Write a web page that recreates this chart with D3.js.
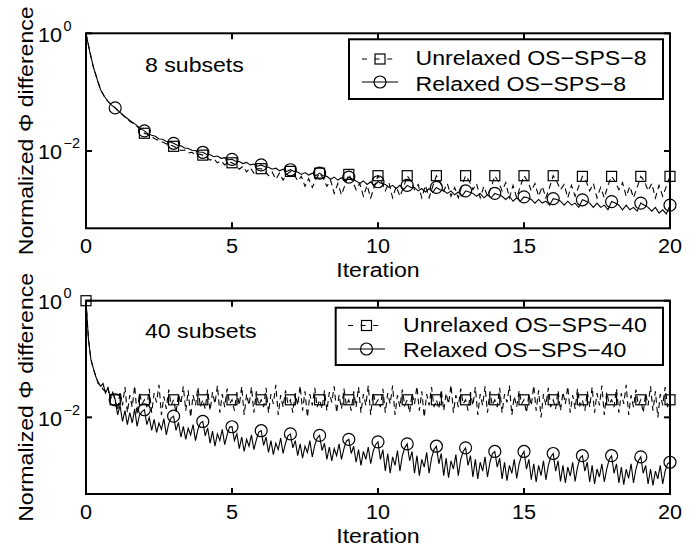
<!DOCTYPE html>
<html><head><meta charset="utf-8">
<script src="https://cdn.jsdelivr.net/npm/d3@7"></script>
<style>
body{margin:0;background:#fff}
svg{display:block}
text{font-family:"Liberation Sans",Arial,Helvetica,sans-serif;fill:#000}
</style>
</head><body>
<svg id="chart" width="700" height="549"></svg>
<script>
// ---------- data ----------
const xTickValues = [0, 5, 10, 15, 20];
const yTickExponents = [0, -2];
const xLabel = "Iteration";
const yLabel = "Normalized \u03A6 difference";
const panelTitles = ["8 subsets", "40 subsets"];
const legendTop = ["Unrelaxed OS\u2212SPS\u22128", "Relaxed OS\u2212SPS\u22128"];
const legendBottom = ["Unrelaxed OS\u2212SPS\u221240", "Relaxed OS\u2212SPS\u221240"];
const samplesPerIterTop = 8;
const samplesPerIterBottom = 12;

const unrelaxed8 = [
1, 0.5, 0.27, 0.17, 0.11, 0.085, 0.07, 0.06, 0.054,
0.046, 0.041, 0.036, 0.032, 0.029, 0.026, 0.023, 0.020,
0.019, 0.0172, 0.016, 0.0150, 0.0142, 0.0132, 0.0128, 0.012,
0.0112, 0.0102, 0.0104, 0.0092, 0.0095, 0.0086, 0.0089, 0.0085,
0.0078, 0.0070, 0.0074, 0.0063, 0.0068, 0.0058, 0.0065, 0.0063,
0.0058, 0.0049, 0.0055, 0.0044, 0.0052, 0.0042, 0.0050, 0.0050,
0.0046, 0.0038, 0.0044, 0.0033, 0.0042, 0.0032, 0.0040, 0.0045,
0.0040, 0.0031, 0.0037, 0.0025, 0.0034, 0.0024, 0.0033, 0.0042,
0.0034, 0.0025, 0.0032, 0.0019, 0.0028, 0.0018, 0.0027, 0.0040,
0.0031, 0.0022, 0.0028, 0.0017, 0.0026, 0.0016, 0.0025, 0.0038,
0.0030, 0.0021, 0.0029, 0.0016, 0.0025, 0.0017, 0.0024, 0.0038,
0.0031, 0.0022, 0.0027, 0.0016, 0.0026, 0.0016, 0.0025, 0.0038,
0.0030, 0.0021, 0.0028, 0.0017, 0.0024, 0.0016, 0.0026, 0.0038,
0.0031, 0.0022, 0.0028, 0.0016, 0.0025, 0.0017, 0.0024, 0.0038,
0.0030, 0.0021, 0.0029, 0.0016, 0.0026, 0.0016, 0.0025, 0.0038,
0.0031, 0.0021, 0.0028, 0.0017, 0.0025, 0.0016, 0.0024, 0.0038,
0.0030, 0.0022, 0.0027, 0.0016, 0.0026, 0.0017, 0.0025, 0.0037,
0.0031, 0.0021, 0.0028, 0.0016, 0.0024, 0.0016, 0.0026, 0.0037,
0.0030, 0.0022, 0.0029, 0.0017, 0.0025, 0.0016, 0.0024, 0.0037,
0.0031, 0.0021, 0.0028, 0.0016, 0.0026, 0.0017, 0.0025, 0.0037
];
const relaxed8 = [
1, 0.5, 0.27, 0.17, 0.11, 0.085, 0.07, 0.06, 0.054,
0.047, 0.042, 0.037, 0.033, 0.030, 0.027, 0.024, 0.022,
0.0195, 0.0185, 0.0178, 0.0160, 0.0158, 0.0145, 0.0142, 0.0135,
0.0125, 0.0122, 0.0112, 0.0110, 0.0103, 0.0101, 0.0096, 0.0095,
0.0088, 0.0086, 0.0080, 0.0082, 0.0075, 0.0077, 0.0071, 0.0072,
0.0067, 0.0066, 0.0061, 0.0064, 0.0058, 0.0060, 0.0055, 0.0058,
0.0054, 0.0053, 0.0049, 0.0051, 0.0046, 0.0049, 0.0045, 0.0048,
0.0045, 0.0044, 0.0040, 0.0043, 0.0039, 0.0042, 0.0038, 0.0042,
0.0038, 0.0037, 0.0033, 0.0036, 0.0032, 0.0035, 0.0031, 0.0036,
0.0033, 0.0031, 0.0028, 0.0031, 0.0027, 0.0030, 0.0026, 0.0030,
0.0028, 0.0027, 0.0024, 0.0026, 0.0023, 0.0026, 0.0022, 0.0026,
0.0024, 0.0024, 0.0021, 0.0023, 0.0020, 0.0023, 0.0020, 0.0024,
0.0022, 0.0021, 0.0019, 0.0021, 0.0018, 0.0020, 0.0017, 0.0021,
0.0020, 0.0019, 0.0017, 0.0019, 0.0016, 0.0018, 0.0016, 0.0019,
0.0018, 0.0017, 0.0015, 0.0017, 0.0014, 0.0016, 0.0014, 0.00166,
0.0016, 0.0015, 0.0013, 0.0015, 0.0013, 0.0014, 0.0012, 0.00155,
0.0015, 0.0014, 0.0012, 0.0014, 0.0012, 0.0013, 0.0011, 0.00148,
0.0014, 0.0013, 0.0011, 0.0013, 0.0011, 0.0012, 0.0010, 0.00138,
0.0013, 0.0012, 0.0010, 0.0012, 0.0010, 0.0011, 0.00095, 0.0013,
0.0012, 0.0011, 0.00095, 0.0011, 0.00088, 0.0010, 0.00085, 0.0012
];
const unrelaxed40 = [
1, 0.22, 0.10, 0.068, 0.052, 0.038, 0.036, 0.030, 0.028, 0.033, 0.020, 0.026, 0.020,
0.013, 0.028, 0.016, 0.033, 0.012, 0.024, 0.015, 0.035, 0.011, 0.026, 0.017, 0.020,
0.015, 0.031, 0.012, 0.026, 0.018, 0.036, 0.011, 0.023, 0.014, 0.030, 0.016, 0.020,
0.012, 0.025, 0.017, 0.034, 0.013, 0.029, 0.010, 0.024, 0.016, 0.033, 0.015, 0.020,
0.014, 0.030, 0.013, 0.027, 0.017, 0.035, 0.012, 0.025, 0.015, 0.031, 0.017, 0.020,
0.013, 0.027, 0.016, 0.034, 0.011, 0.025, 0.016, 0.033, 0.012, 0.028, 0.016, 0.020,
0.015, 0.032, 0.012, 0.025, 0.017, 0.036, 0.011, 0.024, 0.015, 0.029, 0.017, 0.020,
0.012, 0.026, 0.016, 0.035, 0.013, 0.028, 0.010, 0.025, 0.016, 0.032, 0.015, 0.020,
0.014, 0.029, 0.013, 0.027, 0.018, 0.034, 0.012, 0.024, 0.014, 0.031, 0.016, 0.020,
0.013, 0.028, 0.015, 0.033, 0.012, 0.025, 0.016, 0.035, 0.011, 0.027, 0.017, 0.020,
0.015, 0.031, 0.012, 0.026, 0.017, 0.035, 0.011, 0.024, 0.015, 0.030, 0.016, 0.020,
0.012, 0.026, 0.017, 0.034, 0.013, 0.028, 0.010, 0.025, 0.016, 0.033, 0.015, 0.020,
0.014, 0.030, 0.013, 0.026, 0.017, 0.036, 0.012, 0.024, 0.015, 0.031, 0.017, 0.020,
0.013, 0.027, 0.016, 0.033, 0.011, 0.025, 0.016, 0.034, 0.012, 0.028, 0.016, 0.020,
0.015, 0.032, 0.012, 0.025, 0.018, 0.035, 0.011, 0.023, 0.015, 0.029, 0.017, 0.020,
0.012, 0.025, 0.016, 0.035, 0.013, 0.029, 0.010, 0.025, 0.016, 0.032, 0.015, 0.020,
0.014, 0.029, 0.013, 0.027, 0.017, 0.034, 0.012, 0.024, 0.014, 0.031, 0.016, 0.020,
0.013, 0.028, 0.015, 0.033, 0.012, 0.026, 0.016, 0.035, 0.011, 0.027, 0.017, 0.020,
0.015, 0.031, 0.012, 0.026, 0.017, 0.036, 0.011, 0.024, 0.015, 0.030, 0.016, 0.020,
0.012, 0.026, 0.016, 0.034, 0.013, 0.028, 0.010, 0.025, 0.016, 0.033, 0.015, 0.020
];
const relaxed40 = [
1, 0.22, 0.10, 0.070, 0.050, 0.040, 0.034, 0.038, 0.026, 0.032, 0.022, 0.027, 0.020,
0.011, 0.016, 0.0085, 0.013, 0.0075, 0.012, 0.0080, 0.014, 0.0070, 0.011, 0.0125, 0.0135,
0.0075, 0.010, 0.0060, 0.0092, 0.0055, 0.0080, 0.0062, 0.0095, 0.0050, 0.0078, 0.0098, 0.0105,
0.0060, 0.0082, 0.0046, 0.0070, 0.0042, 0.0065, 0.0050, 0.0075, 0.0040, 0.0062, 0.0080, 0.0085,
0.0048, 0.0066, 0.0036, 0.0058, 0.0032, 0.0052, 0.0040, 0.0062, 0.0034, 0.0050, 0.0068, 0.0069,
0.0040, 0.0052, 0.0029, 0.0046, 0.0026, 0.0042, 0.0032, 0.0050, 0.0028, 0.0041, 0.0056, 0.0059,
0.0033, 0.0046, 0.0025, 0.0040, 0.0023, 0.0036, 0.0028, 0.0044, 0.0024, 0.0036, 0.0048, 0.0052,
0.0030, 0.0040, 0.0022, 0.0035, 0.0020, 0.0032, 0.0025, 0.0040, 0.0021, 0.0033, 0.0044, 0.0049,
0.0027, 0.0036, 0.0019, 0.0031, 0.0018, 0.0029, 0.0022, 0.0035, 0.0019, 0.0029, 0.0039, 0.0042,
0.0024, 0.0032, 0.0017, 0.0028, 0.0015, 0.0026, 0.0019, 0.0031, 0.0016, 0.0026, 0.0034, 0.0038,
0.0019, 0.0028, 0.0012, 0.0024, 0.0011, 0.0021, 0.0015, 0.0027, 0.0012, 0.0022, 0.0030, 0.0035,
0.0018, 0.0026, 0.0011, 0.0022, 0.0010, 0.0019, 0.0014, 0.0025, 0.0011, 0.0020, 0.0028, 0.0032,
0.0016, 0.0024, 0.0010, 0.0020, 0.00092, 0.0018, 0.0013, 0.0023, 0.0010, 0.0019, 0.0026, 0.0030,
0.0015, 0.0022, 0.00095, 0.0019, 0.00088, 0.0017, 0.0012, 0.0021, 0.00095, 0.0017, 0.0024, 0.0026,
0.0014, 0.0020, 0.00088, 0.0017, 0.00082, 0.0015, 0.0011, 0.0019, 0.00090, 0.0016, 0.0022, 0.0026,
0.0013, 0.0019, 0.00085, 0.0016, 0.00078, 0.0015, 0.0010, 0.0018, 0.00085, 0.0015, 0.0021, 0.0024,
0.0012, 0.0018, 0.00080, 0.0015, 0.00075, 0.0014, 0.00098, 0.0017, 0.00080, 0.0014, 0.0020, 0.0022,
0.0012, 0.0017, 0.00078, 0.0015, 0.00072, 0.0013, 0.00095, 0.0016, 0.00078, 0.0013, 0.0019, 0.0022,
0.0011, 0.0016, 0.00075, 0.0014, 0.00070, 0.0013, 0.00090, 0.0016, 0.00075, 0.0013, 0.0018, 0.0021,
0.0011, 0.0015, 0.00072, 0.0013, 0.00068, 0.0012, 0.00088, 0.0015, 0.00072, 0.0012, 0.0016, 0.0017
];
// iterations carrying a marker
const markerItersUnrelaxedTop = d3.range(2, 21);
const markerItersRelaxedTop = d3.range(1, 21);
const markerItersUnrelaxedBottom = d3.range(0, 21);
const markerItersRelaxedBottom = d3.range(1, 21);

// ---------- drawing ----------
const svg = d3.select("#chart");
const SX = 1.1;            // glyph widening to match the reference font
const yMin = 4.85e-4;

function label(parent, x, y, s, size, anchor, rot, sx) {
  const g = parent.append("g")
    .attr("transform", `translate(${x},${y}) rotate(${rot || 0}) scale(${sx == null ? SX : sx},1)`);
  g.append("text").attr("text-anchor", anchor || "start")
    .style("font-size", size + "px").text(s);
  return g;
}

const panels = [
  { top: 33.3, bottom: 228.3, title: panelTitles[0], titleY: 72,
    unrelaxed: unrelaxed8, relaxed: relaxed8, spi: samplesPerIterTop,
    mU: markerItersUnrelaxedTop, mR: markerItersRelaxedTop,
    legend: legendTop, lg: { x0: 349, y0: 39.3, x1: 663, y1: 99, r1: 59, r2: 82, l0: 362, l1: 398, tx: 415.5, b1: 65, b2: 90.5 } },
  { top: 300.7, bottom: 494, title: panelTitles[1], titleY: 338,
    unrelaxed: unrelaxed40, relaxed: relaxed40, spi: samplesPerIterBottom,
    mU: markerItersUnrelaxedBottom, mR: markerItersRelaxedBottom,
    legend: legendBottom, lg: { x0: 335.7, y0: 307.7, x1: 663, y1: 365, r1: 325.5, r2: 349, l0: 348, l1: 385, tx: 403, b1: 331.5, b2: 357 } }
];

const left = 86, right = 670;

function squareAt(g, cx, cy) {
  g.append("rect").attr("x", cx - 5).attr("y", cy - 5).attr("width", 10).attr("height", 10)
    .attr("fill", "none").attr("stroke", "#000").attr("stroke-width", 1.2);
}
function circleAt(g, cx, cy) {
  g.append("circle").attr("cx", cx).attr("cy", cy).attr("r", 6)
    .attr("fill", "none").attr("stroke", "#000").attr("stroke-width", 1.2);
}

panels.forEach(p => {
  const x = d3.scaleLinear().domain([0, 20]).range([left, right]);
  const y = d3.scaleLog().domain([yMin, 1]).range([p.bottom, p.top]);
  const g = svg.append("g");
  const line = d3.line().x((d, i) => x(i / p.spi)).y(d => y(d));

  g.append("path").datum(p.unrelaxed).attr("d", line)
    .attr("fill", "none").attr("stroke", "#000").attr("stroke-width", 1.1)
    .attr("stroke-dasharray", "6,4");
  g.append("path").datum(p.relaxed).attr("d", line)
    .attr("fill", "none").attr("stroke", "#000").attr("stroke-width", 1.1);

  p.mU.forEach(it => squareAt(g, x(it), y(p.unrelaxed[it * p.spi])));
  p.mR.forEach(it => circleAt(g, x(it), y(p.relaxed[it * p.spi])));

  // axes box
  g.append("rect").attr("x", left).attr("y", p.top).attr("width", right - left)
    .attr("height", p.bottom - p.top).attr("fill", "none").attr("stroke", "#000").attr("stroke-width", 2);

  // x ticks & labels
  xTickValues.forEach(v => {
    const px = x(v);
    g.append("line").attr("x1", px).attr("x2", px).attr("y1", p.bottom).attr("y2", p.bottom - 6)
      .attr("stroke", "#000").attr("stroke-width", 2);
    g.append("line").attr("x1", px).attr("x2", px).attr("y1", p.top).attr("y2", p.top + 6)
      .attr("stroke", "#000").attr("stroke-width", 2);
    label(g, px, p.bottom + 25, String(v), 21, "middle", 0, 1.03);
  });
  // y ticks & labels
  yTickExponents.forEach(e => {
    const py = y(Math.pow(10, e));
    g.append("line").attr("x1", left).attr("x2", left + 6).attr("y1", py).attr("y2", py)
      .attr("stroke", "#000").attr("stroke-width", 2);
    g.append("line").attr("x1", right).attr("x2", right - 6).attr("y1", py).attr("y2", py)
      .attr("stroke", "#000").attr("stroke-width", 2);
    label(g, 62, py + 8.5, "10", 21, "end", 0, 1.03);
    label(g, 63.5, py - 2.5, e === 0 ? "0" : "\u2212" + Math.abs(e), 14, "start", 0, 1.03);
  });

  // axis titles
  label(g, (left + right) / 2, p.bottom + 49, xLabel, 21, "middle");
  label(g, 33, (p.top + p.bottom) / 2, yLabel, 21, "middle", -90);

  // panel title
  label(g, 145, p.titleY, p.title, 21, "start");

  // legend
  const L = p.lg;
  g.append("rect").attr("x", L.x0).attr("y", L.y0).attr("width", L.x1 - L.x0).attr("height", L.y1 - L.y0)
    .attr("fill", "#fff").attr("stroke", "#000").attr("stroke-width", 2);
  const mid = (L.l0 + L.l1) / 2;
  g.append("line").attr("x1", L.l0).attr("x2", L.l1).attr("y1", L.r1).attr("y2", L.r1)
    .attr("stroke", "#000").attr("stroke-width", 1.1).attr("stroke-dasharray", "5,7.6");
  squareAt(g, mid, L.r1);
  g.append("line").attr("x1", L.l0).attr("x2", L.l1).attr("y1", L.r2).attr("y2", L.r2)
    .attr("stroke", "#000").attr("stroke-width", 1.1);
  circleAt(g, mid, L.r2);
  label(g, L.tx, L.b1, p.legend[0], 21, "start");
  label(g, L.tx, L.b2, p.legend[1], 21, "start");
});
</script>
</body></html>
